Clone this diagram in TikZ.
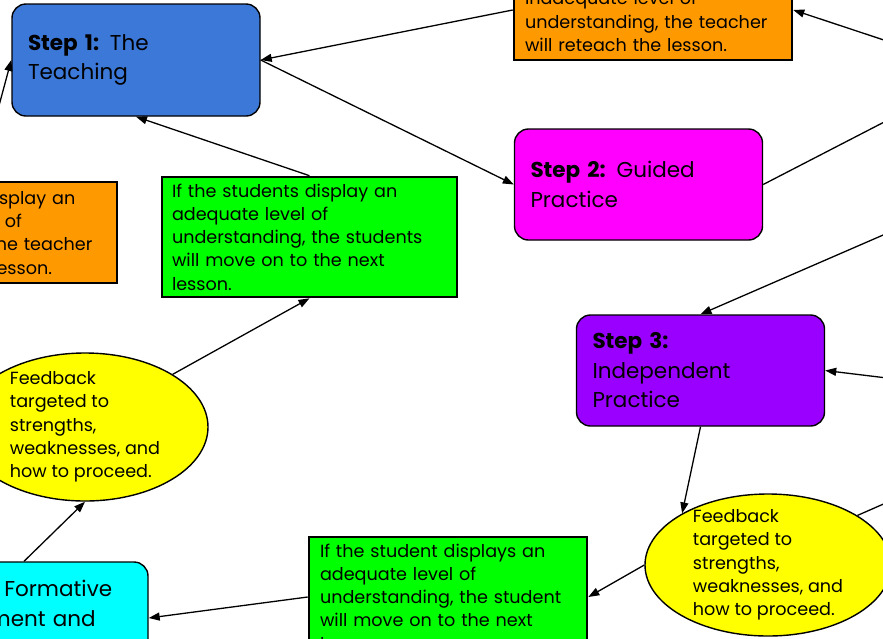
\documentclass[tikz,border=0pt]{standalone}
\usepackage{fontspec}
\setmainfont{Poppins}
\usetikzlibrary{arrows.meta,shapes.geometric}
\definecolor{teachblue}{HTML}{3C78D8}
\definecolor{guidepink}{HTML}{FF00FF}
\definecolor{indepurple}{HTML}{9900FF}
\definecolor{assesscyan}{HTML}{00FFFF}
\definecolor{passgreen}{HTML}{00FF00}
\definecolor{redoorange}{HTML}{FF9900}
\definecolor{feedyellow}{HTML}{FFFF00}
\newcommand{\feedtext}{Feedback\\targeted to\\strengths,\\weaknesses, and\\how to proceed.}
\newcommand{\redotext}{If the students display an\\inadequate level of\\understanding, the teacher\\will reteach the lesson.}

\begin{document}
\begin{tikzpicture}[x=1pt,y=-1pt,>={Triangle[length=11pt,width=8pt]},
  stepbox/.style={draw=black,line width=1.4pt,rounded corners=14pt,align=left,
    inner xsep=16pt,inner ysep=0pt,text width=216pt,minimum height=112pt,
    font=\fontsize{21.5}{29.5}\selectfont},
  notebox/.style={draw=black,line width=2.6pt,align=left,inner xsep=11pt,
    inner ysep=0pt,text width=256pt,minimum height=120pt,
    font=\fontsize{17.6}{23.3}\selectfont},
  feedback/.style={ellipse,draw=black,line width=1.4pt,fill=feedyellow,
    minimum width=246pt,inner sep=0pt},
  feednote/.style={align=left,inner sep=0pt,font=\fontsize{17.6}{23.3}\selectfont},
  link/.style={->,line width=1.3pt}]
\useasboundingbox (0,0) rectangle (883,638);
\clip (0,0) rectangle (883,638);

% ---------------- the four steps
\node[stepbox,fill=teachblue]  (step1) at (136,60)    {\textbf{Step 1:} The\\Teaching};
\node[stepbox,fill=guidepink,minimum height=111pt]  (step2) at (638.5,184.5) {\textbf{Step 2:} Guided\\Practice};
\node[stepbox,fill=indepurple,minimum height=111pt] (step3) at (700.5,370.5) {\textbf{Step 3:}\\Independent\\Practice};
\node[stepbox,fill=assesscyan] (step4) at (24,618)  {\textbf{Step 4:} Formative\\Assessment and\\Feedback};

% ---------------- outcomes
\node[notebox,fill=redoorange,minimum height=100pt] (otop)  at (653,10)    {\redotext};
\node[notebox,fill=redoorange,minimum height=101pt] (oleft) at (-22,232.5) {\redotext};
\node[notebox,fill=passgreen,text width=275pt,inner xsep=10pt] (gtop) at (309.5,237)
  {If the students display an\\adequate level of\\understanding, the students\\will move on to the next\\lesson.};
\node[notebox,fill=passgreen] (gbot) at (448,597)
  {If the student displays an\\adequate level of\\understanding, the student\\will move on to the next\\lesson.};

% ---------------- feedback
\node[feedback,minimum height=148pt] (lell) at (85,427) {};
\node[feednote] (lelltext) at (lell.center) {\feedtext};
\node[feedback,minimum height=142pt] (rell) at (768,565) {};
\node[feednote] (relltext) at (rell.center) {\feedtext};

% ---------------- connectors
\coordinate (rimA) at (920,52);
\coordinate (rimB) at (921,103);
\coordinate (rimC) at (920,219);
\coordinate (rimD) at (920,382);
\coordinate (rimE) at (920,488);
\coordinate (rimF) at (-10,139);

\draw[link] (otop.west) -- (step1.east);
\draw[link] (step1.east) -- (step2.west);
\draw[link] (gtop.north) -- (step1.south);
\draw[link] (rimA) -- (otop.east);
\draw[line width=1.3pt] (step2.east) -- (rimB);
\draw[link] (rimC) -- (step3.north);
\draw[link] (rimD) -- (step3.east);
\draw[link] (step3.south) -- (rell.149);
\draw[link] (rell.west) -- (gbot.east);
\draw[line width=1.3pt] (rell.29) -- (rimE);
\draw[link] (gbot.west) -- (step4.east);
\draw[link] (step4.north) -- (lell.south);
\draw[link] (lell.31) -- (gtop.south);
\draw[link] (rimF) -- (step1.west);
\end{tikzpicture}
\end{document}
